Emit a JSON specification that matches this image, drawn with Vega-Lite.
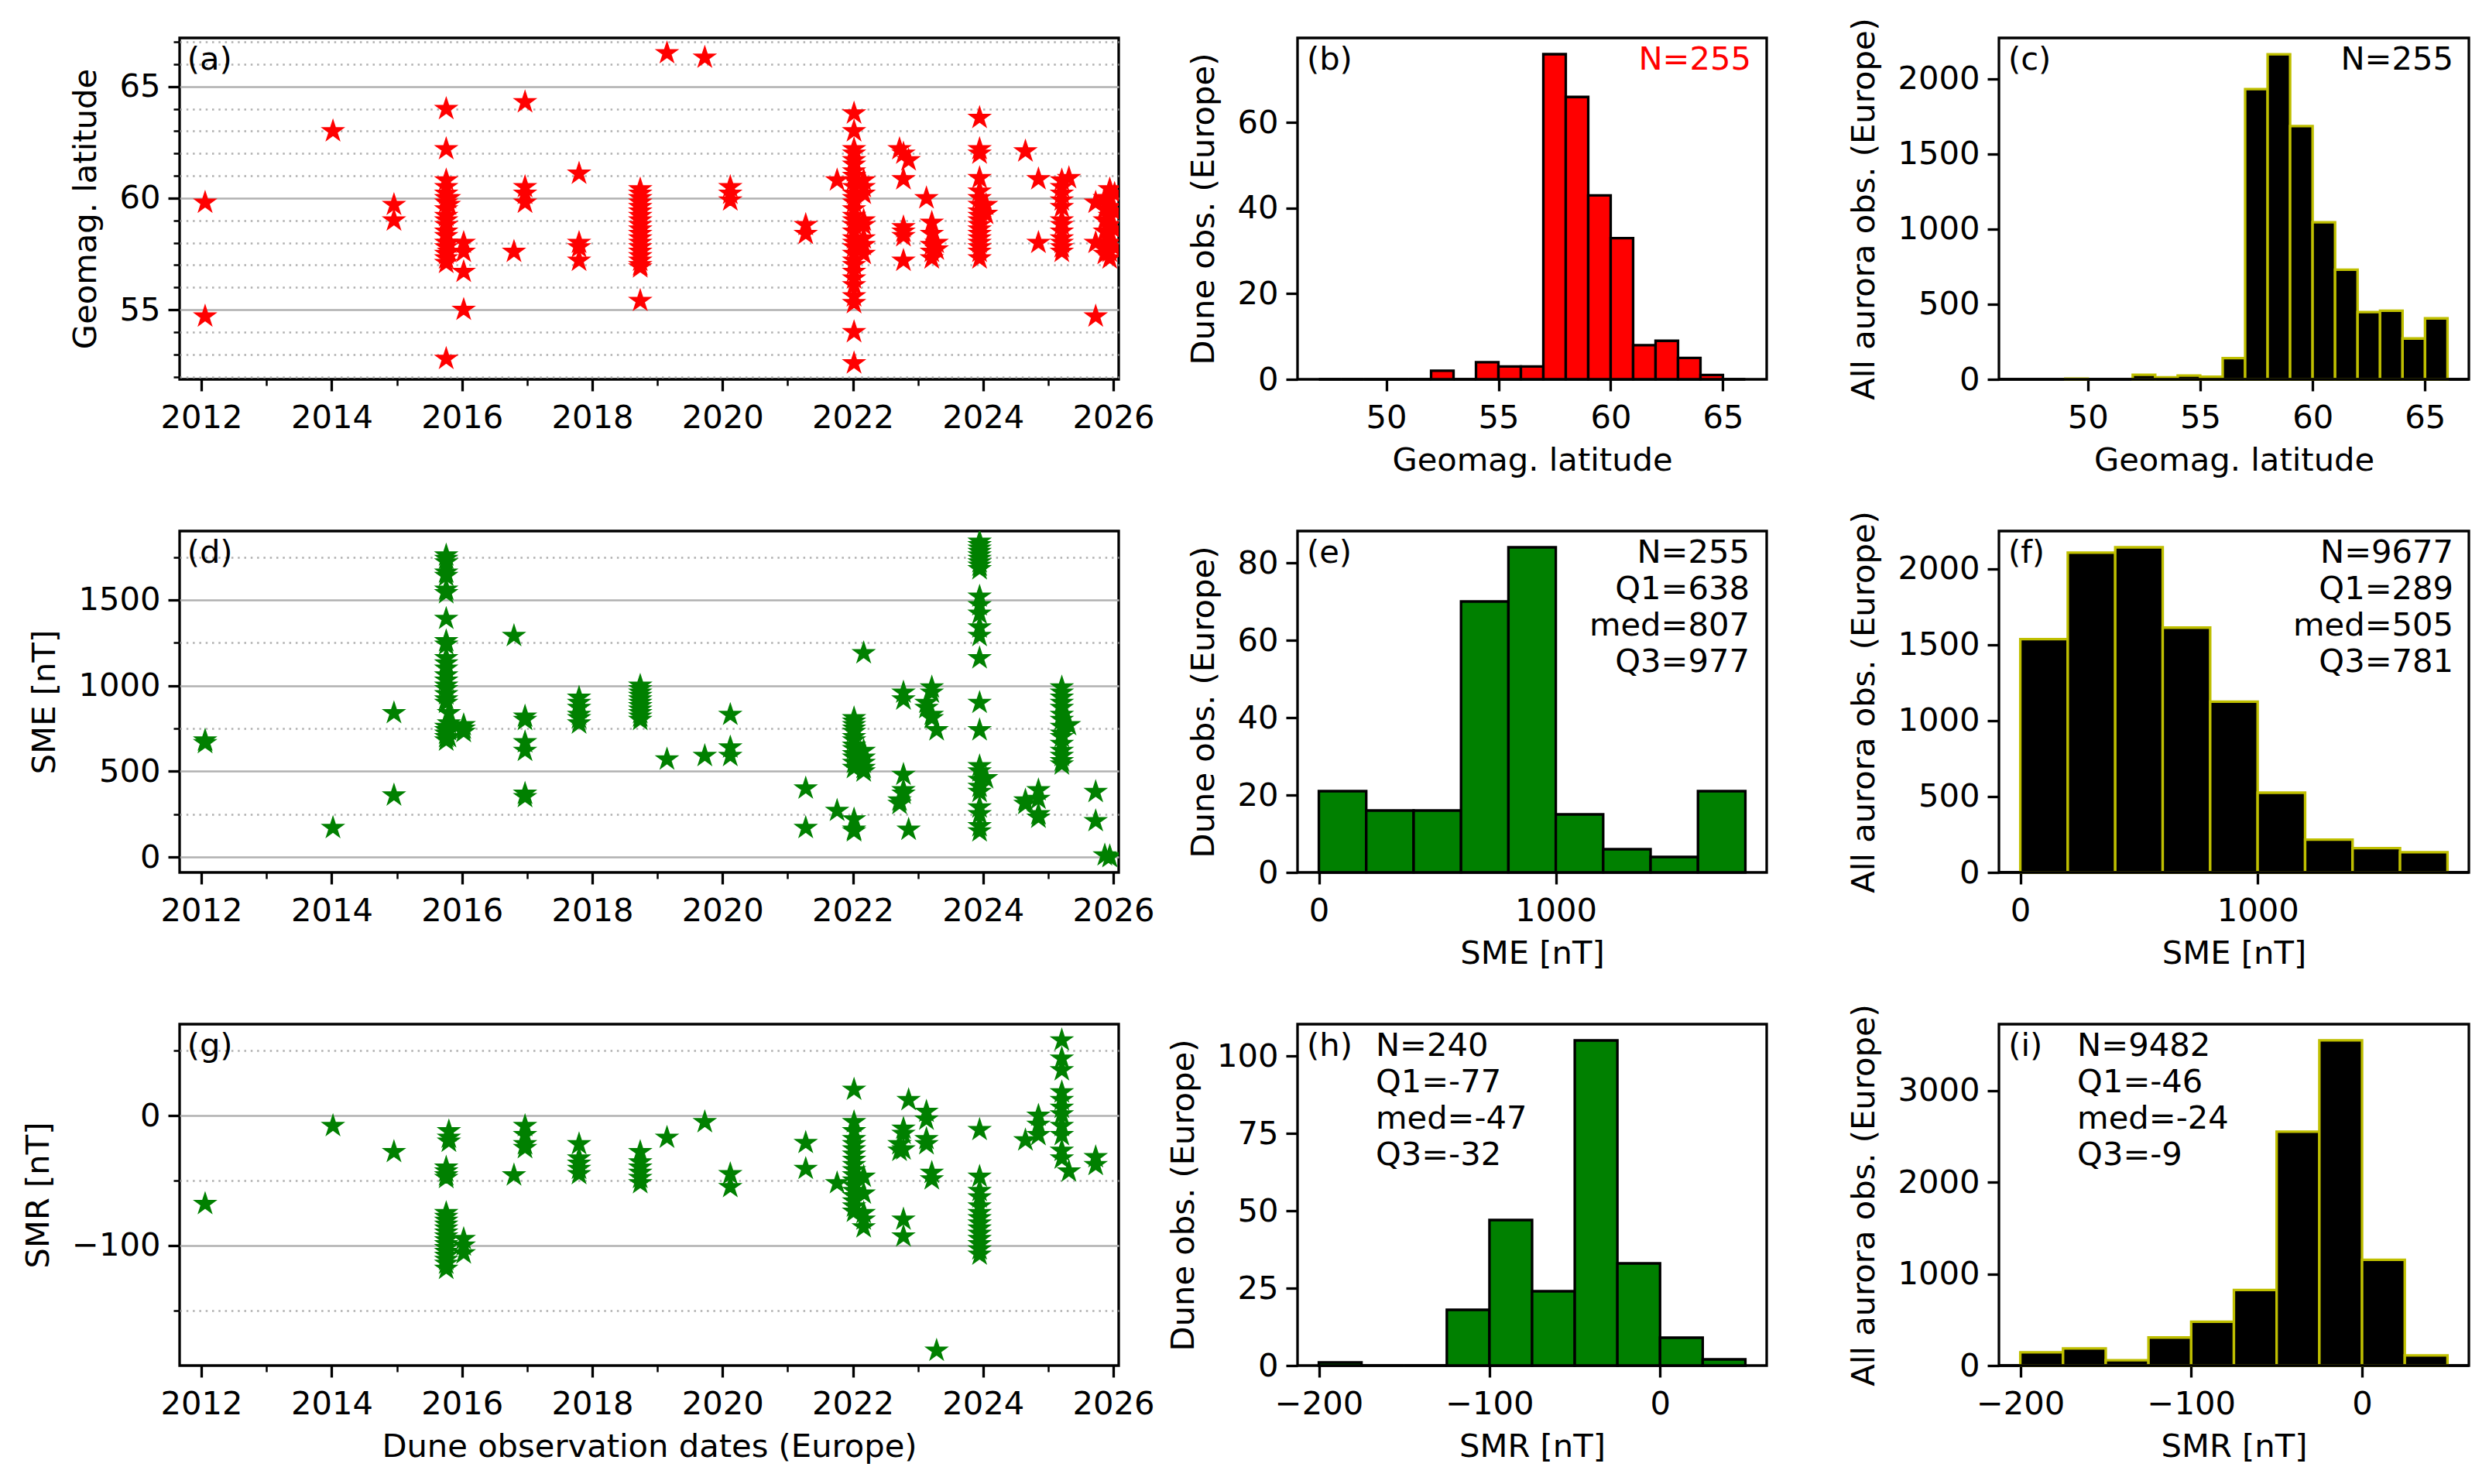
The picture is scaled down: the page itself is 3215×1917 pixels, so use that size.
{
  "$schema": "https://vega.github.io/schema/vega-lite/v6.json",
  "background": "white",
  "padding": {"left": 27, "top": 21, "right": 30, "bottom": 27},
  "columns": 5,
  "bounds": "flush",
  "align": "each",
  "spacing": {"row": 196, "column": 0},
  "datasets": {
    "lat": [
      {"date":"2012-01-22","lat":59.8},{"date":"2012-01-22","lat":54.7},
      {"date":"2014-01-08","lat":63.0},
      {"date":"2014-12-16","lat":59.7},{"date":"2014-12-16","lat":59.0},
      {"date":"2015-10-05","lat":64.0},{"date":"2015-10-05","lat":62.2},{"date":"2015-10-05","lat":60.8},{"date":"2015-10-05","lat":60.5},{"date":"2015-10-05","lat":60.2},{"date":"2015-10-05","lat":60.0},{"date":"2015-10-05","lat":59.8},{"date":"2015-10-05","lat":59.5},{"date":"2015-10-05","lat":59.2},{"date":"2015-10-05","lat":59.0},{"date":"2015-10-05","lat":58.8},{"date":"2015-10-05","lat":58.5},{"date":"2015-10-05","lat":58.3},{"date":"2015-10-05","lat":58.0},{"date":"2015-10-05","lat":57.8},{"date":"2015-10-05","lat":57.5},{"date":"2015-10-05","lat":57.3},{"date":"2015-10-05","lat":57.1},{"date":"2015-10-05","lat":52.8},
      {"date":"2015-10-20","lat":60.0},{"date":"2015-10-20","lat":59.7},{"date":"2015-10-20","lat":58.0},{"date":"2015-10-20","lat":57.6},
      {"date":"2016-01-11","lat":58.0},{"date":"2016-01-11","lat":57.6},{"date":"2016-01-11","lat":56.7},{"date":"2016-01-11","lat":55.0},
      {"date":"2016-10-19","lat":57.6},
      {"date":"2016-12-20","lat":64.3},{"date":"2016-12-20","lat":60.5},{"date":"2016-12-20","lat":60.2},{"date":"2016-12-20","lat":59.8},
      {"date":"2017-10-19","lat":61.1},{"date":"2017-10-19","lat":58.0},{"date":"2017-10-19","lat":57.8},{"date":"2017-10-19","lat":57.2},
      {"date":"2018-09-27","lat":60.4},{"date":"2018-09-27","lat":60.2},{"date":"2018-09-27","lat":60.0},{"date":"2018-09-27","lat":59.8},{"date":"2018-09-27","lat":59.6},{"date":"2018-09-27","lat":59.4},{"date":"2018-09-27","lat":59.2},{"date":"2018-09-27","lat":59.0},{"date":"2018-09-27","lat":58.8},{"date":"2018-09-27","lat":58.6},{"date":"2018-09-27","lat":58.4},{"date":"2018-09-27","lat":58.2},{"date":"2018-09-27","lat":58.0},{"date":"2018-09-27","lat":57.8},{"date":"2018-09-27","lat":57.6},{"date":"2018-09-27","lat":57.4},{"date":"2018-09-27","lat":57.2},{"date":"2018-09-27","lat":57.0},{"date":"2018-09-27","lat":56.9},{"date":"2018-09-27","lat":55.4},
      {"date":"2019-02-24","lat":66.5},
      {"date":"2019-09-24","lat":66.3},
      {"date":"2020-02-14","lat":60.5},{"date":"2020-02-14","lat":60.2},{"date":"2020-02-14","lat":59.9},
      {"date":"2021-04-12","lat":58.8},{"date":"2021-04-12","lat":58.4},
      {"date":"2021-10-05","lat":60.8},
      {"date":"2022-01-08","lat":63.8},{"date":"2022-01-08","lat":63.0},{"date":"2022-01-08","lat":62.2},{"date":"2022-01-08","lat":62.0},{"date":"2022-01-08","lat":61.7},{"date":"2022-01-08","lat":61.5},{"date":"2022-01-08","lat":61.2},{"date":"2022-01-08","lat":61.0},{"date":"2022-01-08","lat":60.8},{"date":"2022-01-08","lat":60.5},{"date":"2022-01-08","lat":60.2},{"date":"2022-01-08","lat":60.0},{"date":"2022-01-08","lat":59.8},{"date":"2022-01-08","lat":59.5},{"date":"2022-01-08","lat":59.2},{"date":"2022-01-08","lat":59.0},{"date":"2022-01-08","lat":58.8},{"date":"2022-01-08","lat":58.5},{"date":"2022-01-08","lat":58.2},{"date":"2022-01-08","lat":58.0},{"date":"2022-01-08","lat":57.8},{"date":"2022-01-08","lat":57.5},{"date":"2022-01-08","lat":57.2},{"date":"2022-01-08","lat":57.0},{"date":"2022-01-08","lat":56.7},{"date":"2022-01-08","lat":56.4},{"date":"2022-01-08","lat":56.1},{"date":"2022-01-08","lat":55.6},{"date":"2022-01-08","lat":55.3},{"date":"2022-01-08","lat":54.0},{"date":"2022-01-08","lat":52.6},
      {"date":"2022-03-03","lat":60.8},{"date":"2022-03-03","lat":60.5},{"date":"2022-03-03","lat":60.2},{"date":"2022-03-03","lat":59.0},{"date":"2022-03-03","lat":58.8},{"date":"2022-03-03","lat":58.2},{"date":"2022-03-03","lat":57.9},{"date":"2022-03-03","lat":57.5},
      {"date":"2022-09-20","lat":62.2},
      {"date":"2022-10-12","lat":62.0},{"date":"2022-10-12","lat":60.85},{"date":"2022-10-12","lat":58.7},{"date":"2022-10-12","lat":58.5},{"date":"2022-10-12","lat":58.3},{"date":"2022-10-12","lat":57.2},
      {"date":"2022-11-10","lat":61.7},
      {"date":"2023-02-18","lat":60.0},
      {"date":"2023-03-20","lat":58.9},{"date":"2023-03-20","lat":58.4},{"date":"2023-03-20","lat":57.9},{"date":"2023-03-20","lat":57.6},{"date":"2023-03-20","lat":57.3},
      {"date":"2023-04-16","lat":58.0},{"date":"2023-04-16","lat":57.7},
      {"date":"2023-12-13","lat":63.6},{"date":"2023-12-13","lat":62.2},{"date":"2023-12-13","lat":62.0},{"date":"2023-12-13","lat":60.9},{"date":"2023-12-13","lat":60.3},{"date":"2023-12-13","lat":60.0},{"date":"2023-12-13","lat":59.7},{"date":"2023-12-13","lat":59.4},{"date":"2023-12-13","lat":59.2},{"date":"2023-12-13","lat":59.0},{"date":"2023-12-13","lat":58.8},{"date":"2023-12-13","lat":58.6},{"date":"2023-12-13","lat":58.4},{"date":"2023-12-13","lat":58.2},{"date":"2023-12-13","lat":58.0},{"date":"2023-12-13","lat":57.8},{"date":"2023-12-13","lat":57.6},{"date":"2023-12-13","lat":57.3},
      {"date":"2024-01-18","lat":59.7},{"date":"2024-01-18","lat":59.3},
      {"date":"2024-08-26","lat":62.1},
      {"date":"2024-11-07","lat":60.85},{"date":"2024-11-07","lat":58.0},
      {"date":"2025-03-18","lat":60.8},{"date":"2025-03-18","lat":60.5},{"date":"2025-03-18","lat":60.2},{"date":"2025-03-18","lat":59.9},{"date":"2025-03-18","lat":59.6},{"date":"2025-03-18","lat":59.0},{"date":"2025-03-18","lat":58.8},{"date":"2025-03-18","lat":58.5},{"date":"2025-03-18","lat":58.2},{"date":"2025-03-18","lat":58.0},{"date":"2025-03-18","lat":57.8},{"date":"2025-03-18","lat":57.6},
      {"date":"2025-04-27","lat":60.9},
      {"date":"2025-09-24","lat":59.8},{"date":"2025-09-24","lat":58.0},{"date":"2025-09-24","lat":54.7},
      {"date":"2025-11-14","lat":60.0},{"date":"2025-11-14","lat":59.5},{"date":"2025-11-14","lat":59.0},{"date":"2025-11-14","lat":58.5},{"date":"2025-11-14","lat":58.0},{"date":"2025-11-14","lat":57.5},
      {"date":"2025-12-12","lat":60.4},{"date":"2025-12-12","lat":60.0},{"date":"2025-12-12","lat":59.6},{"date":"2025-12-12","lat":59.2},{"date":"2025-12-12","lat":58.8},{"date":"2025-12-12","lat":58.4},{"date":"2025-12-12","lat":58.0},{"date":"2025-12-12","lat":57.6},{"date":"2025-12-12","lat":57.3},
      {"date":"2026-01-08","lat":60.2},{"date":"2026-01-08","lat":59.4},{"date":"2026-01-08","lat":58.6},{"date":"2026-01-08","lat":57.8}
    ],
    "sme": [
      {"date":"2012-01-22","sme":680},{"date":"2012-01-22","sme":665},
      {"date":"2014-01-08","sme":170},
      {"date":"2014-12-16","sme":840},{"date":"2014-12-16","sme":360},
      {"date":"2015-10-05","sme":1760},{"date":"2015-10-05","sme":1740},{"date":"2015-10-05","sme":1720},{"date":"2015-10-05","sme":1660},{"date":"2015-10-05","sme":1640},{"date":"2015-10-05","sme":1560},{"date":"2015-10-05","sme":1540},{"date":"2015-10-05","sme":1390},{"date":"2015-10-05","sme":1260},{"date":"2015-10-05","sme":1240},{"date":"2015-10-05","sme":1160},{"date":"2015-10-05","sme":1130},{"date":"2015-10-05","sme":1100},{"date":"2015-10-05","sme":1060},{"date":"2015-10-05","sme":1030},{"date":"2015-10-05","sme":1000},{"date":"2015-10-05","sme":980},{"date":"2015-10-05","sme":950},{"date":"2015-10-05","sme":920},{"date":"2015-10-05","sme":900},{"date":"2015-10-05","sme":760},{"date":"2015-10-05","sme":740},{"date":"2015-10-05","sme":720},{"date":"2015-10-05","sme":700},{"date":"2015-10-05","sme":680},
      {"date":"2015-10-20","sme":840},{"date":"2015-10-20","sme":780},{"date":"2015-10-20","sme":740},{"date":"2015-10-20","sme":700},
      {"date":"2016-01-11","sme":770},{"date":"2016-01-11","sme":750},{"date":"2016-01-11","sme":730},
      {"date":"2016-10-19","sme":1290},
      {"date":"2016-12-20","sme":820},{"date":"2016-12-20","sme":800},{"date":"2016-12-20","sme":670},{"date":"2016-12-20","sme":620},{"date":"2016-12-20","sme":370},{"date":"2016-12-20","sme":350},
      {"date":"2017-10-19","sme":930},{"date":"2017-10-19","sme":900},{"date":"2017-10-19","sme":870},{"date":"2017-10-19","sme":830},{"date":"2017-10-19","sme":810},{"date":"2017-10-19","sme":780},
      {"date":"2018-09-27","sme":1000},{"date":"2018-09-27","sme":980},{"date":"2018-09-27","sme":960},{"date":"2018-09-27","sme":940},{"date":"2018-09-27","sme":920},{"date":"2018-09-27","sme":900},{"date":"2018-09-27","sme":880},{"date":"2018-09-27","sme":860},{"date":"2018-09-27","sme":840},{"date":"2018-09-27","sme":820},{"date":"2018-09-27","sme":800},
      {"date":"2019-02-24","sme":570},
      {"date":"2019-09-24","sme":590},
      {"date":"2020-02-14","sme":830},{"date":"2020-02-14","sme":640},{"date":"2020-02-14","sme":590},
      {"date":"2021-04-12","sme":400},{"date":"2021-04-12","sme":170},
      {"date":"2021-10-05","sme":270},
      {"date":"2022-01-08","sme":810},{"date":"2022-01-08","sme":790},{"date":"2022-01-08","sme":770},{"date":"2022-01-08","sme":750},{"date":"2022-01-08","sme":730},{"date":"2022-01-08","sme":700},{"date":"2022-01-08","sme":680},{"date":"2022-01-08","sme":650},{"date":"2022-01-08","sme":630},{"date":"2022-01-08","sme":600},{"date":"2022-01-08","sme":580},{"date":"2022-01-08","sme":550},{"date":"2022-01-08","sme":520},{"date":"2022-01-08","sme":220},{"date":"2022-01-08","sme":160},{"date":"2022-01-08","sme":150},
      {"date":"2022-03-03","sme":1190},{"date":"2022-03-03","sme":620},{"date":"2022-03-03","sme":580},{"date":"2022-03-03","sme":550},{"date":"2022-03-03","sme":520},{"date":"2022-03-03","sme":500},
      {"date":"2022-09-20","sme":330},{"date":"2022-09-20","sme":310},
      {"date":"2022-10-12","sme":960},{"date":"2022-10-12","sme":920},{"date":"2022-10-12","sme":480},{"date":"2022-10-12","sme":390},{"date":"2022-10-12","sme":370},
      {"date":"2022-11-10","sme":160},
      {"date":"2023-02-18","sme":900},{"date":"2023-02-18","sme":870},
      {"date":"2023-03-20","sme":990},{"date":"2023-03-20","sme":960},{"date":"2023-03-20","sme":830},{"date":"2023-03-20","sme":810},
      {"date":"2023-04-16","sme":740},
      {"date":"2023-12-13","sme":1840},{"date":"2023-12-13","sme":1820},{"date":"2023-12-13","sme":1800},{"date":"2023-12-13","sme":1780},{"date":"2023-12-13","sme":1760},{"date":"2023-12-13","sme":1740},{"date":"2023-12-13","sme":1720},{"date":"2023-12-13","sme":1700},{"date":"2023-12-13","sme":1680},{"date":"2023-12-13","sme":1520},{"date":"2023-12-13","sme":1470},{"date":"2023-12-13","sme":1420},{"date":"2023-12-13","sme":1340},{"date":"2023-12-13","sme":1290},{"date":"2023-12-13","sme":1160},{"date":"2023-12-13","sme":900},{"date":"2023-12-13","sme":740},{"date":"2023-12-13","sme":530},{"date":"2023-12-13","sme":500},{"date":"2023-12-13","sme":450},{"date":"2023-12-13","sme":410},{"date":"2023-12-13","sme":380},{"date":"2023-12-13","sme":290},{"date":"2023-12-13","sme":250},{"date":"2023-12-13","sme":180},{"date":"2023-12-13","sme":150},
      {"date":"2024-01-18","sme":460},
      {"date":"2024-08-26","sme":330},{"date":"2024-08-26","sme":310},
      {"date":"2024-11-07","sme":390},{"date":"2024-11-07","sme":340},{"date":"2024-11-07","sme":250},{"date":"2024-11-07","sme":230},
      {"date":"2025-03-18","sme":990},{"date":"2025-03-18","sme":960},{"date":"2025-03-18","sme":930},{"date":"2025-03-18","sme":900},{"date":"2025-03-18","sme":870},{"date":"2025-03-18","sme":830},{"date":"2025-03-18","sme":800},{"date":"2025-03-18","sme":760},{"date":"2025-03-18","sme":720},{"date":"2025-03-18","sme":700},{"date":"2025-03-18","sme":660},{"date":"2025-03-18","sme":620},{"date":"2025-03-18","sme":590},{"date":"2025-03-18","sme":560},{"date":"2025-03-18","sme":540},
      {"date":"2025-04-27","sme":770},
      {"date":"2025-09-24","sme":380},{"date":"2025-09-24","sme":210},
      {"date":"2025-11-14","sme":10},
      {"date":"2025-12-12","sme":5},{"date":"2025-12-12","sme":0}
    ],
    "smr": [
      {"date":"2012-01-22","smr":-68},
      {"date":"2014-01-08","smr":-8},
      {"date":"2014-12-16","smr":-28},
      {"date":"2015-10-05","smr":-40},{"date":"2015-10-05","smr":-43},{"date":"2015-10-05","smr":-46},{"date":"2015-10-05","smr":-48},{"date":"2015-10-05","smr":-75},{"date":"2015-10-05","smr":-78},{"date":"2015-10-05","smr":-81},{"date":"2015-10-05","smr":-84},{"date":"2015-10-05","smr":-87},{"date":"2015-10-05","smr":-90},{"date":"2015-10-05","smr":-93},{"date":"2015-10-05","smr":-96},{"date":"2015-10-05","smr":-99},{"date":"2015-10-05","smr":-102},{"date":"2015-10-05","smr":-105},{"date":"2015-10-05","smr":-108},{"date":"2015-10-05","smr":-111},{"date":"2015-10-05","smr":-114},{"date":"2015-10-05","smr":-118},
      {"date":"2015-10-20","smr":-12},{"date":"2015-10-20","smr":-17},{"date":"2015-10-20","smr":-20},
      {"date":"2016-01-11","smr":-95},{"date":"2016-01-11","smr":-100},{"date":"2016-01-11","smr":-106},
      {"date":"2016-10-19","smr":-46},
      {"date":"2016-12-20","smr":-8},{"date":"2016-12-20","smr":-15},{"date":"2016-12-20","smr":-22},{"date":"2016-12-20","smr":-25},
      {"date":"2017-10-19","smr":-22},{"date":"2017-10-19","smr":-33},{"date":"2017-10-19","smr":-37},{"date":"2017-10-19","smr":-41},{"date":"2017-10-19","smr":-45},
      {"date":"2018-09-27","smr":-28},{"date":"2018-09-27","smr":-36},{"date":"2018-09-27","smr":-40},{"date":"2018-09-27","smr":-44},{"date":"2018-09-27","smr":-48},{"date":"2018-09-27","smr":-52},
      {"date":"2019-02-24","smr":-17},
      {"date":"2019-09-24","smr":-5},
      {"date":"2020-02-14","smr":-45},{"date":"2020-02-14","smr":-55},
      {"date":"2021-04-12","smr":-21},{"date":"2021-04-12","smr":-41},
      {"date":"2021-10-05","smr":-52},
      {"date":"2022-01-08","smr":20},{"date":"2022-01-08","smr":-5},{"date":"2022-01-08","smr":-12},{"date":"2022-01-08","smr":-18},{"date":"2022-01-08","smr":-22},{"date":"2022-01-08","smr":-26},{"date":"2022-01-08","smr":-30},{"date":"2022-01-08","smr":-34},{"date":"2022-01-08","smr":-38},{"date":"2022-01-08","smr":-42},{"date":"2022-01-08","smr":-46},{"date":"2022-01-08","smr":-50},{"date":"2022-01-08","smr":-54},{"date":"2022-01-08","smr":-58},{"date":"2022-01-08","smr":-62},{"date":"2022-01-08","smr":-66},{"date":"2022-01-08","smr":-70},{"date":"2022-01-08","smr":-74},
      {"date":"2022-03-03","smr":-47},{"date":"2022-03-03","smr":-60},{"date":"2022-03-03","smr":-75},{"date":"2022-03-03","smr":-80},{"date":"2022-03-03","smr":-86},
      {"date":"2022-09-20","smr":-22},{"date":"2022-09-20","smr":-27},
      {"date":"2022-10-12","smr":-10},{"date":"2022-10-12","smr":-14},{"date":"2022-10-12","smr":-26},{"date":"2022-10-12","smr":-80},{"date":"2022-10-12","smr":-93},
      {"date":"2022-11-10","smr":12},
      {"date":"2023-02-18","smr":3},{"date":"2023-02-18","smr":-3},{"date":"2023-02-18","smr":-18},{"date":"2023-02-18","smr":-22},
      {"date":"2023-03-20","smr":-44},{"date":"2023-03-20","smr":-49},
      {"date":"2023-04-16","smr":-181},
      {"date":"2023-12-13","smr":-11},{"date":"2023-12-13","smr":-47},{"date":"2023-12-13","smr":-58},{"date":"2023-12-13","smr":-63},{"date":"2023-12-13","smr":-70},{"date":"2023-12-13","smr":-75},{"date":"2023-12-13","smr":-79},{"date":"2023-12-13","smr":-83},{"date":"2023-12-13","smr":-87},{"date":"2023-12-13","smr":-91},{"date":"2023-12-13","smr":-95},{"date":"2023-12-13","smr":-99},{"date":"2023-12-13","smr":-103},{"date":"2023-12-13","smr":-107},
      {"date":"2024-08-26","smr":-19},
      {"date":"2024-11-07","smr":0},{"date":"2024-11-07","smr":-7},{"date":"2024-11-07","smr":-15},
      {"date":"2025-03-18","smr":58},{"date":"2025-03-18","smr":44},{"date":"2025-03-18","smr":35},{"date":"2025-03-18","smr":18},{"date":"2025-03-18","smr":12},{"date":"2025-03-18","smr":6},{"date":"2025-03-18","smr":1},{"date":"2025-03-18","smr":-8},{"date":"2025-03-18","smr":-15},{"date":"2025-03-18","smr":-27},{"date":"2025-03-18","smr":-33},
      {"date":"2025-04-27","smr":-43},
      {"date":"2025-09-24","smr":-32},{"date":"2025-09-24","smr":-38}
    ],
    "hb": [
      {"lo":47,"hi":48,"n":0},{"lo":48,"hi":49,"n":0},{"lo":49,"hi":50,"n":0},{"lo":50,"hi":51,"n":0},{"lo":51,"hi":52,"n":0},{"lo":52,"hi":53,"n":2},{"lo":53,"hi":54,"n":0},{"lo":54,"hi":55,"n":4},{"lo":55,"hi":56,"n":3},{"lo":56,"hi":57,"n":3},{"lo":57,"hi":58,"n":76},{"lo":58,"hi":59,"n":66},{"lo":59,"hi":60,"n":43},{"lo":60,"hi":61,"n":33},{"lo":61,"hi":62,"n":8},{"lo":62,"hi":63,"n":9},{"lo":63,"hi":64,"n":5},{"lo":64,"hi":65,"n":1},{"lo":65,"hi":66,"n":0}
    ],
    "hc": [
      {"lo":49,"hi":50,"n":4},{"lo":52,"hi":53,"n":30},{"lo":53,"hi":54,"n":13},{"lo":54,"hi":55,"n":25},{"lo":55,"hi":56,"n":17},{"lo":56,"hi":57,"n":141},{"lo":57,"hi":58,"n":1932},{"lo":58,"hi":59,"n":2164},{"lo":59,"hi":60,"n":1686},{"lo":60,"hi":61,"n":1046},{"lo":61,"hi":62,"n":730},{"lo":62,"hi":63,"n":448},{"lo":63,"hi":64,"n":457},{"lo":64,"hi":65,"n":272},{"lo":65,"hi":66,"n":406}
    ],
    "he": [
      {"lo":0,"hi":200,"n":21},{"lo":200,"hi":400,"n":16},{"lo":400,"hi":600,"n":16},{"lo":600,"hi":800,"n":70},{"lo":800,"hi":1000,"n":84},{"lo":1000,"hi":1200,"n":15},{"lo":1200,"hi":1400,"n":6},{"lo":1400,"hi":1600,"n":4},{"lo":1600,"hi":1800,"n":21}
    ],
    "hf": [
      {"lo":0,"hi":200,"n":1536},{"lo":200,"hi":400,"n":2106},{"lo":400,"hi":600,"n":2141},{"lo":600,"hi":800,"n":1612},{"lo":800,"hi":1000,"n":1125},{"lo":1000,"hi":1200,"n":525},{"lo":1200,"hi":1400,"n":216},{"lo":1400,"hi":1600,"n":160},{"lo":1600,"hi":1800,"n":133}
    ],
    "hh": [
      {"lo":-200,"hi":-175,"n":1},{"lo":-175,"hi":-150,"n":0},{"lo":-150,"hi":-125,"n":0},{"lo":-125,"hi":-100,"n":18},{"lo":-100,"hi":-75,"n":47},{"lo":-75,"hi":-50,"n":24},{"lo":-50,"hi":-25,"n":105},{"lo":-25,"hi":0,"n":33},{"lo":0,"hi":25,"n":9},{"lo":25,"hi":50,"n":2}
    ],
    "hi": [
      {"lo":-200,"hi":-175,"n":144},{"lo":-175,"hi":-150,"n":186},{"lo":-150,"hi":-125,"n":58},{"lo":-125,"hi":-100,"n":306},{"lo":-100,"hi":-75,"n":478},{"lo":-75,"hi":-50,"n":825},{"lo":-50,"hi":-25,"n":2550},{"lo":-25,"hi":0,"n":3546},{"lo":0,"hi":25,"n":1154},{"lo":25,"hi":50,"n":110}
    ]
  },
  "concat": [
    {
      "width": 1213, "height": 441,
      "data": {"name": "lat"},
      "layer": [
        {
          "mark": {"type": "point", "opacity": 0},
          "encoding": {
            "x": {"field": "date", "type": "temporal",
              "scale": {"type": "utc", "nice": false, "domain": [{"year": 2011, "month": 9, "date": 1, "utc": true}, {"year": 2026, "month": 1, "date": 31, "utc": true}]},
              "axis": {"orient": "bottom", "title": null, "labels": false, "tickSize": 8, "tickWidth": 2.5,
                "values": [{"year": 2012, "utc": true}, {"year": 2013, "utc": true}, {"year": 2014, "utc": true}, {"year": 2015, "utc": true}, {"year": 2016, "utc": true}, {"year": 2017, "utc": true}, {"year": 2018, "utc": true}, {"year": 2019, "utc": true}, {"year": 2020, "utc": true}, {"year": 2021, "utc": true}, {"year": 2022, "utc": true}, {"year": 2023, "utc": true}, {"year": 2024, "utc": true}, {"year": 2025, "utc": true}, {"year": 2026, "utc": true}]}},
            "y": {"field": "lat", "type": "quantitative",
              "scale": {"domain": [51.88, 67.18], "nice": false, "zero": false},
              "axis": {"orient": "left", "title": null, "labels": false, "tickSize": 8, "tickWidth": 2.5, "grid": true, "gridColor": "#b0b0b0", "gridWidth": 2.5, "gridDash": [2.5, 5.8],
                "values": [52, 53, 54, 56, 57, 58, 59, 61, 62, 63, 64, 66, 67]}}
          }
        },
        {
          "mark": {"type": "point", "shape": "M0,-1L0.2245,-0.309L0.9511,-0.309L0.3633,0.118L0.5878,0.809L0,0.382L-0.5878,0.809L-0.3633,0.118L-0.9511,-0.309L-0.2245,-0.309Z", "filled": true, "fill": "#ff0000", "stroke": "#ff0000", "strokeWidth": 2.5, "strokeJoin": "miter", "size": 640, "opacity": 1, "clip": true},
          "encoding": {
            "x": {"field": "date", "type": "temporal",
              "scale": {"type": "utc", "nice": false, "domain": [{"year": 2011, "month": 9, "date": 1, "utc": true}, {"year": 2026, "month": 1, "date": 31, "utc": true}]},
              "axis": {"orient": "bottom", "title": null, "format": "%Y",
                "values": [{"year": 2012, "utc": true}, {"year": 2014, "utc": true}, {"year": 2016, "utc": true}, {"year": 2018, "utc": true}, {"year": 2020, "utc": true}, {"year": 2022, "utc": true}, {"year": 2024, "utc": true}, {"year": 2026, "utc": true}]}},
            "y": {"field": "lat", "type": "quantitative",
              "scale": {"domain": [51.88, 67.18], "nice": false, "zero": false},
              "axis": {"orient": "left", "title": "Geomag. latitude", "format": "d", "grid": true, "gridColor": "#b0b0b0", "gridWidth": 2.7, "values": [55, 60, 65]}}
          }
        },
        {
          "data": {"values": [{"t": "(a)"}]},
          "mark": {"type": "text", "align": "left", "baseline": "alphabetic"},
          "encoding": {
            "x": {"datum": {"year": 2011, "month": 10, "date": 13, "utc": true}, "axis": null},
            "y": {"datum": 65.76, "axis": null},
            "text": {"field": "t"}
          }
        }
      ],
      "resolve": {"axis": {"x": "independent", "y": "independent"}}
    },
    {"width": 231, "height": 441, "data": {"values": [{"z": 0}]}, "mark": {"type": "point", "opacity": 0}, "encoding": {}, "view": {"stroke": null}},
    {
      "width": 606, "height": 441,
      "layer": [
        {
          "data": {"name": "hb"},
          "mark": {"type": "rect", "fill": "#ff0000", "stroke": "black", "strokeWidth": 3.3},
          "encoding": {
            "x": {"field": "lo", "type": "quantitative", "scale": {"domain": [46.05, 66.95], "nice": false, "zero": false}, "axis": {"values": [50, 55, 60, 65], "format": "d", "title": "Geomag. latitude"}},
            "x2": {"field": "hi"},
            "y": {"field": "n", "type": "quantitative", "scale": {"domain": [0, 79.8], "nice": false}, "axis": {"values": [0, 20, 40, 60], "format": "d", "title": "Dune obs. (Europe)"}},
            "y2": {"datum": 0}
          }
        },
        {
          "data": {"values": [{"t": "(b)"}]},
          "mark": {"type": "text", "align": "left", "baseline": "alphabetic"},
          "encoding": {"x": {"datum": 46.46, "axis": null}, "y": {"datum": 72.47, "axis": null}, "text": {"field": "t"}}
        },
        {
          "data": {"values": [{"t": "N=255"}]},
          "mark": {"type": "text", "align": "right", "baseline": "alphabetic", "color": "#ff0000"},
          "encoding": {"x": {"datum": 66.26, "axis": null}, "y": {"datum": 72.47, "axis": null}, "text": {"field": "t"}}
        }
      ],
      "resolve": {"axis": {"x": "independent", "y": "independent"}}
    },
    {"width": 300, "height": 441, "data": {"values": [{"z": 0}]}, "mark": {"type": "point", "opacity": 0}, "encoding": {}, "view": {"stroke": null}},
    {
      "width": 607, "height": 441,
      "layer": [
        {
          "data": {"name": "hc"},
          "mark": {"type": "rect", "fill": "black", "stroke": "#bfbf00", "strokeWidth": 3.3},
          "encoding": {
            "x": {"field": "lo", "type": "quantitative", "scale": {"domain": [46.05, 66.95], "nice": false, "zero": false}, "axis": {"values": [50, 55, 60, 65], "format": "d", "title": "Geomag. latitude"}},
            "x2": {"field": "hi"},
            "y": {"field": "n", "type": "quantitative", "scale": {"domain": [0, 2273], "nice": false}, "axis": {"values": [0, 500, 1000, 1500, 2000], "format": "d", "title": "All aurora obs. (Europe)"}},
            "y2": {"datum": 0}
          }
        },
        {
          "data": {"values": [{"t": "spine"}]},
          "mark": {"type": "rule", "color": "black", "strokeWidth": 3.3},
          "encoding": {"y": {"datum": 0, "axis": null}}
        },
        {
          "data": {"values": [{"t": "(c)"}]},
          "mark": {"type": "text", "align": "left", "baseline": "alphabetic"},
          "encoding": {"x": {"datum": 46.46, "axis": null}, "y": {"datum": 2064, "axis": null}, "text": {"field": "t"}}
        },
        {
          "data": {"values": [{"t": "N=255"}]},
          "mark": {"type": "text", "align": "right", "baseline": "alphabetic"},
          "encoding": {"x": {"datum": 66.26, "axis": null}, "y": {"datum": 2064, "axis": null}, "text": {"field": "t"}}
        }
      ],
      "resolve": {"axis": {"x": "independent", "y": "independent"}}
    },
    {
      "width": 1213, "height": 441,
      "data": {"name": "sme"},
      "layer": [
        {
          "mark": {"type": "point", "opacity": 0},
          "encoding": {
            "x": {"field": "date", "type": "temporal",
              "scale": {"type": "utc", "nice": false, "domain": [{"year": 2011, "month": 9, "date": 1, "utc": true}, {"year": 2026, "month": 1, "date": 31, "utc": true}]},
              "axis": {"orient": "bottom", "title": null, "labels": false, "tickSize": 8, "tickWidth": 2.5,
                "values": [{"year": 2012, "utc": true}, {"year": 2013, "utc": true}, {"year": 2014, "utc": true}, {"year": 2015, "utc": true}, {"year": 2016, "utc": true}, {"year": 2017, "utc": true}, {"year": 2018, "utc": true}, {"year": 2019, "utc": true}, {"year": 2020, "utc": true}, {"year": 2021, "utc": true}, {"year": 2022, "utc": true}, {"year": 2023, "utc": true}, {"year": 2024, "utc": true}, {"year": 2025, "utc": true}, {"year": 2026, "utc": true}]}},
            "y": {"field": "sme", "type": "quantitative",
              "scale": {"domain": [-90, 1902], "nice": false, "zero": false},
              "axis": {"orient": "left", "title": null, "labels": false, "tickSize": 8, "tickWidth": 2.5, "grid": true, "gridColor": "#b0b0b0", "gridWidth": 2.5, "gridDash": [2.5, 5.8],
                "values": [250, 750, 1250, 1750]}}
          }
        },
        {
          "mark": {"type": "point", "shape": "M0,-1L0.2245,-0.309L0.9511,-0.309L0.3633,0.118L0.5878,0.809L0,0.382L-0.5878,0.809L-0.3633,0.118L-0.9511,-0.309L-0.2245,-0.309Z", "filled": true, "fill": "#008000", "stroke": "#008000", "strokeWidth": 2.5, "strokeJoin": "miter", "size": 640, "opacity": 1, "clip": true},
          "encoding": {
            "x": {"field": "date", "type": "temporal",
              "scale": {"type": "utc", "nice": false, "domain": [{"year": 2011, "month": 9, "date": 1, "utc": true}, {"year": 2026, "month": 1, "date": 31, "utc": true}]},
              "axis": {"orient": "bottom", "title": null, "format": "%Y",
                "values": [{"year": 2012, "utc": true}, {"year": 2014, "utc": true}, {"year": 2016, "utc": true}, {"year": 2018, "utc": true}, {"year": 2020, "utc": true}, {"year": 2022, "utc": true}, {"year": 2024, "utc": true}, {"year": 2026, "utc": true}]}},
            "y": {"field": "sme", "type": "quantitative",
              "scale": {"domain": [-90, 1902], "nice": false, "zero": false},
              "axis": {"orient": "left", "title": "SME [nT]", "format": "d", "grid": true, "gridColor": "#b0b0b0", "gridWidth": 2.7, "values": [0, 500, 1000, 1500]}}
          }
        },
        {
          "data": {"values": [{"t": "(d)"}]},
          "mark": {"type": "text", "align": "left", "baseline": "alphabetic"},
          "encoding": {
            "x": {"datum": {"year": 2011, "month": 10, "date": 13, "utc": true}, "axis": null},
            "y": {"datum": 1717, "axis": null},
            "text": {"field": "t"}
          }
        }
      ],
      "resolve": {"axis": {"x": "independent", "y": "independent"}}
    },
    {"width": 231, "height": 441, "data": {"values": [{"z": 0}]}, "mark": {"type": "point", "opacity": 0}, "encoding": {}, "view": {"stroke": null}},
    {
      "width": 606, "height": 441,
      "layer": [
        {
          "data": {"name": "he"},
          "mark": {"type": "rect", "fill": "#008000", "stroke": "black", "strokeWidth": 3.3},
          "encoding": {
            "x": {"field": "lo", "type": "quantitative", "scale": {"domain": [-90, 1890], "nice": false, "zero": false}, "axis": {"values": [0, 1000], "format": "d", "title": "SME [nT]"}},
            "x2": {"field": "hi"},
            "y": {"field": "n", "type": "quantitative", "scale": {"domain": [0, 88.2], "nice": false}, "axis": {"values": [0, 20, 40, 60, 80], "format": "d", "title": "Dune obs. (Europe)"}},
            "y2": {"datum": 0}
          }
        },
        {
          "data": {"values": [{"t": "(e)"}]},
          "mark": {"type": "text", "align": "left", "baseline": "alphabetic"},
          "encoding": {"x": {"datum": -51, "axis": null}, "y": {"datum": 80.1, "axis": null}, "text": {"field": "t"}}
        },
        {
          "data": {"values": [{"t": ["N=255", "Q1=638", "med=807", "Q3=977"]}]},
          "mark": {"type": "text", "align": "right", "baseline": "alphabetic", "lineHeight": 47},
          "encoding": {"x": {"datum": 1818, "axis": null}, "y": {"datum": 80.1, "axis": null}, "text": {"field": "t"}}
        }
      ],
      "resolve": {"axis": {"x": "independent", "y": "independent"}}
    },
    {"width": 300, "height": 441, "data": {"values": [{"z": 0}]}, "mark": {"type": "point", "opacity": 0}, "encoding": {}, "view": {"stroke": null}},
    {
      "width": 607, "height": 441,
      "layer": [
        {
          "data": {"name": "hf"},
          "mark": {"type": "rect", "fill": "black", "stroke": "#bfbf00", "strokeWidth": 3.3},
          "encoding": {
            "x": {"field": "lo", "type": "quantitative", "scale": {"domain": [-90, 1890], "nice": false, "zero": false}, "axis": {"values": [0, 1000], "format": "d", "title": "SME [nT]"}},
            "x2": {"field": "hi"},
            "y": {"field": "n", "type": "quantitative", "scale": {"domain": [0, 2248], "nice": false}, "axis": {"values": [0, 500, 1000, 1500, 2000], "format": "d", "title": "All aurora obs. (Europe)"}},
            "y2": {"datum": 0}
          }
        },
        {
          "data": {"values": [{"t": "spine"}]},
          "mark": {"type": "rule", "color": "black", "strokeWidth": 3.3},
          "encoding": {"y": {"datum": 0, "axis": null}}
        },
        {
          "data": {"values": [{"t": "(f)"}]},
          "mark": {"type": "text", "align": "left", "baseline": "alphabetic"},
          "encoding": {"x": {"datum": -51, "axis": null}, "y": {"datum": 2041.5, "axis": null}, "text": {"field": "t"}}
        },
        {
          "data": {"values": [{"t": ["N=9677", "Q1=289", "med=505", "Q3=781"]}]},
          "mark": {"type": "text", "align": "right", "baseline": "alphabetic", "lineHeight": 47},
          "encoding": {"x": {"datum": 1825, "axis": null}, "y": {"datum": 2041.5, "axis": null}, "text": {"field": "t"}}
        }
      ],
      "resolve": {"axis": {"x": "independent", "y": "independent"}}
    },
    {
      "width": 1213, "height": 441,
      "data": {"name": "smr"},
      "layer": [
        {
          "mark": {"type": "point", "opacity": 0},
          "encoding": {
            "x": {"field": "date", "type": "temporal",
              "scale": {"type": "utc", "nice": false, "domain": [{"year": 2011, "month": 9, "date": 1, "utc": true}, {"year": 2026, "month": 1, "date": 31, "utc": true}]},
              "axis": {"orient": "bottom", "title": null, "labels": false, "tickSize": 8, "tickWidth": 2.5,
                "values": [{"year": 2012, "utc": true}, {"year": 2013, "utc": true}, {"year": 2014, "utc": true}, {"year": 2015, "utc": true}, {"year": 2016, "utc": true}, {"year": 2017, "utc": true}, {"year": 2018, "utc": true}, {"year": 2019, "utc": true}, {"year": 2020, "utc": true}, {"year": 2021, "utc": true}, {"year": 2022, "utc": true}, {"year": 2023, "utc": true}, {"year": 2024, "utc": true}, {"year": 2025, "utc": true}, {"year": 2026, "utc": true}]}},
            "y": {"field": "smr", "type": "quantitative",
              "scale": {"domain": [-192.5, 70.4], "nice": false, "zero": false},
              "axis": {"orient": "left", "title": null, "labels": false, "tickSize": 8, "tickWidth": 2.5, "grid": true, "gridColor": "#b0b0b0", "gridWidth": 2.5, "gridDash": [2.5, 5.8],
                "values": [-150, -50, 50]}}
          }
        },
        {
          "mark": {"type": "point", "shape": "M0,-1L0.2245,-0.309L0.9511,-0.309L0.3633,0.118L0.5878,0.809L0,0.382L-0.5878,0.809L-0.3633,0.118L-0.9511,-0.309L-0.2245,-0.309Z", "filled": true, "fill": "#008000", "stroke": "#008000", "strokeWidth": 2.5, "strokeJoin": "miter", "size": 640, "opacity": 1, "clip": true},
          "encoding": {
            "x": {"field": "date", "type": "temporal",
              "scale": {"type": "utc", "nice": false, "domain": [{"year": 2011, "month": 9, "date": 1, "utc": true}, {"year": 2026, "month": 1, "date": 31, "utc": true}]},
              "axis": {"orient": "bottom", "title": "Dune observation dates (Europe)", "format": "%Y",
                "values": [{"year": 2012, "utc": true}, {"year": 2014, "utc": true}, {"year": 2016, "utc": true}, {"year": 2018, "utc": true}, {"year": 2020, "utc": true}, {"year": 2022, "utc": true}, {"year": 2024, "utc": true}, {"year": 2026, "utc": true}]}},
            "y": {"field": "smr", "type": "quantitative",
              "scale": {"domain": [-192.5, 70.4], "nice": false, "zero": false},
              "axis": {"orient": "left", "title": "SMR [nT]", "format": "d", "grid": true, "gridColor": "#b0b0b0", "gridWidth": 2.7, "values": [-100, 0]}}
          }
        },
        {
          "data": {"values": [{"t": "(g)"}]},
          "mark": {"type": "text", "align": "left", "baseline": "alphabetic"},
          "encoding": {
            "x": {"datum": {"year": 2011, "month": 10, "date": 13, "utc": true}, "axis": null},
            "y": {"datum": 46.0, "axis": null},
            "text": {"field": "t"}
          }
        }
      ],
      "resolve": {"axis": {"x": "independent", "y": "independent"}}
    },
    {"width": 231, "height": 441, "data": {"values": [{"z": 0}]}, "mark": {"type": "point", "opacity": 0}, "encoding": {}, "view": {"stroke": null}},
    {
      "width": 606, "height": 441,
      "layer": [
        {
          "data": {"name": "hh"},
          "mark": {"type": "rect", "fill": "#008000", "stroke": "black", "strokeWidth": 3.3},
          "encoding": {
            "x": {"field": "lo", "type": "quantitative", "scale": {"domain": [-212.5, 62.5], "nice": false, "zero": false}, "axis": {"values": [-200, -100, 0], "format": "d", "title": "SMR [nT]"}},
            "x2": {"field": "hi"},
            "y": {"field": "n", "type": "quantitative", "scale": {"domain": [0, 110.25], "nice": false}, "axis": {"values": [0, 25, 50, 75, 100], "format": "d", "title": "Dune obs. (Europe)"}},
            "y2": {"datum": 0}
          }
        },
        {
          "data": {"values": [{"t": "(h)"}]},
          "mark": {"type": "text", "align": "left", "baseline": "alphabetic"},
          "encoding": {"x": {"datum": -207, "axis": null}, "y": {"datum": 100.1, "axis": null}, "text": {"field": "t"}}
        },
        {
          "data": {"values": [{"t": ["N=240", "Q1=-77", "med=-47", "Q3=-32"]}]},
          "mark": {"type": "text", "align": "left", "baseline": "alphabetic", "lineHeight": 47},
          "encoding": {"x": {"datum": -166.7, "axis": null}, "y": {"datum": 100.1, "axis": null}, "text": {"field": "t"}}
        }
      ],
      "resolve": {"axis": {"x": "independent", "y": "independent"}}
    },
    {"width": 300, "height": 441, "data": {"values": [{"z": 0}]}, "mark": {"type": "point", "opacity": 0}, "encoding": {}, "view": {"stroke": null}},
    {
      "width": 607, "height": 441,
      "layer": [
        {
          "data": {"name": "hi"},
          "mark": {"type": "rect", "fill": "black", "stroke": "#bfbf00", "strokeWidth": 3.3},
          "encoding": {
            "x": {"field": "lo", "type": "quantitative", "scale": {"domain": [-212.5, 62.5], "nice": false, "zero": false}, "axis": {"values": [-200, -100, 0], "format": "d", "title": "SMR [nT]"}},
            "x2": {"field": "hi"},
            "y": {"field": "n", "type": "quantitative", "scale": {"domain": [0, 3723], "nice": false}, "axis": {"values": [0, 1000, 2000, 3000], "format": "d", "title": "All aurora obs. (Europe)"}},
            "y2": {"datum": 0}
          }
        },
        {
          "data": {"values": [{"t": "spine"}]},
          "mark": {"type": "rule", "color": "black", "strokeWidth": 3.3},
          "encoding": {"y": {"datum": 0, "axis": null}}
        },
        {
          "data": {"values": [{"t": "(i)"}]},
          "mark": {"type": "text", "align": "left", "baseline": "alphabetic"},
          "encoding": {"x": {"datum": -207, "axis": null}, "y": {"datum": 3381, "axis": null}, "text": {"field": "t"}}
        },
        {
          "data": {"values": [{"t": ["N=9482", "Q1=-46", "med=-24", "Q3=-9"]}]},
          "mark": {"type": "text", "align": "left", "baseline": "alphabetic", "lineHeight": 47},
          "encoding": {"x": {"datum": -166.7, "axis": null}, "y": {"datum": 3381, "axis": null}, "text": {"field": "t"}}
        }
      ],
      "resolve": {"axis": {"x": "independent", "y": "independent"}}
    }
  ],
  "config": {
    "font": "DejaVu Sans",
    "view": {"stroke": "black", "strokeWidth": 3.3},
    "axis": {
      "labelFont": "DejaVu Sans", "labelFontSize": 41.67, "labelColor": "black",
      "titleFont": "DejaVu Sans", "titleFontSize": 41.67, "titleFontWeight": "normal", "titleColor": "black",
      "tickColor": "black", "tickWidth": 3.3, "tickSize": 15,
      "domain": false, "grid": false, "labelOverlap": false, "labelFlush": false,
      "titleLimit": 2000, "labelLimit": 500
    },
    "axisX": {"labelPadding": 14.2, "titlePadding": 14},
    "axisY": {"labelPadding": 10, "titlePadding": 21},
    "text": {"font": "DejaVu Sans", "fontSize": 41.67, "color": "black"}
  }
}
